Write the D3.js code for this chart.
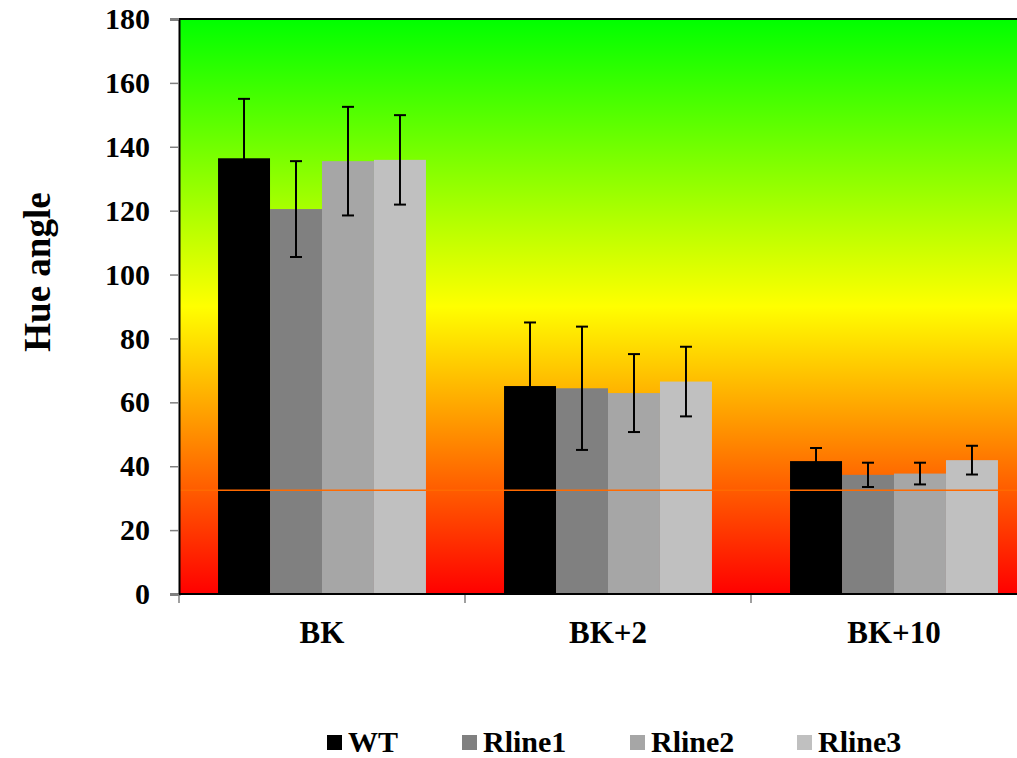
<!DOCTYPE html>
<html>
<head>
<meta charset="utf-8">
<script src="https://cdn.jsdelivr.net/npm/d3@7"></script>
<style>
  body { margin: 0; background: #fff; }
</style>
</head>
<body>
<div id="chart"></div>
<script>
const groups = ['BK', 'BK+2', 'BK+10']
const series = ['WT', 'Rline1', 'Rline2', 'Rline3']
const colors = ['#000000', '#808080', '#a6a6a6', '#c0c0c0']

// mean hue angle per group
const wt = [136.4, 65.1, 41.6]
const rline1 = [120.5, 64.4, 37.3]
const rline2 = [135.5, 62.9, 37.7]
const rline3 = [135.9, 66.5, 41.9]
// error bar half-lengths
const wtErr = [18.6, 19.9, 4.1]
const rline1Err = [15.0, 19.3, 3.8]
const rline2Err = [17.0, 12.2, 3.4]
const rline3Err = [14.0, 10.9, 4.5]

const yTicks = [0, 20, 40, 60, 80, 100, 120, 140, 160, 180]
const refLine = 32.5

const means = [wt, rline1, rline2, rline3]
const errs = [wtErr, rline1Err, rline2Err, rline3Err]

const W = 1017, H = 758
const mLeft = 179, mTop = 19, mBottom = 594
const mRight = mLeft + 3 * 286
const serif = "'Liberation Serif', 'Times New Roman', Times, serif"

const svg = d3.select('#chart')
  .append('svg')
  .attr('width', W)
  .attr('height', H)
  .style('font-family', serif)
  .style('font-weight', 'bold')

const y = d3.scaleLinear().domain([0, 180]).range([mBottom, mTop])
const x0 = d3.scaleBand().domain(groups).range([mLeft, mRight])
const x1 = d3.scaleBand().domain(series).range([0, x0.bandwidth() * 0.727])
const groupPad = (x0.bandwidth() - x1.range()[1]) / 2

// background gradient green -> yellow -> red
const grad = svg.append('defs').append('linearGradient')
  .attr('id', 'bg')
  .attr('gradientUnits', 'userSpaceOnUse')
  .attr('x1', 0).attr('x2', 0)
  .attr('y1', y(180)).attr('y2', y(0))
grad.append('stop').attr('offset', 0).attr('stop-color', '#00ff00')
grad.append('stop').attr('offset', 0.5).attr('stop-color', '#ffff00')
grad.append('stop').attr('offset', 1).attr('stop-color', '#ff0000')

svg.append('rect')
  .attr('x', mLeft).attr('y', y(180))
  .attr('width', mRight - mLeft).attr('height', y(0) - y(180))
  .attr('fill', 'url(#bg)')

// bars
const rows = []
groups.forEach(function(g, gi) {
  series.forEach(function(s, si) {
    rows.push({ g: g, s: s, si: si, v: means[si][gi], e: errs[si][gi] })
  })
})

const bx = function(d) { return x0(d.g) + groupPad + x1(d.s) }

svg.selectAll('rect.bar')
  .data(rows)
  .enter()
  .append('rect')
  .attr('class', 'bar')
  .attr('x', bx)
  .attr('y', function(d) { return y(d.v) })
  .attr('width', x1.bandwidth())
  .attr('height', function(d) { return y(0) - y(d.v) })
  .attr('fill', function(d) { return colors[d.si] })

// reference line
svg.append('line')
  .attr('x1', mLeft).attr('x2', mRight)
  .attr('y1', y(refLine)).attr('y2', y(refLine))
  .attr('stroke', '#ff6a00')
  .attr('stroke-width', 1.5)

// error bars
const eb = svg.selectAll('g.err')
  .data(rows)
  .enter()
  .append('g')
  .attr('class', 'err')
  .attr('transform', function(d) { return 'translate(' + (bx(d) + x1.bandwidth() / 2) + ',0)' })
  .attr('stroke', '#000')
  .attr('stroke-width', 2)

eb.append('line')
  .attr('x1', 0).attr('x2', 0)
  .attr('y1', function(d) { return y(d.v + d.e) })
  .attr('y2', function(d) { return y(d.v - d.e) })
eb.append('line')
  .attr('x1', -6).attr('x2', 6)
  .attr('y1', function(d) { return y(d.v + d.e) })
  .attr('y2', function(d) { return y(d.v + d.e) })
eb.append('line')
  .attr('x1', -6).attr('x2', 6)
  .attr('y1', function(d) { return y(d.v - d.e) })
  .attr('y2', function(d) { return y(d.v - d.e) })

// top frame line
svg.append('line')
  .attr('x1', mLeft).attr('x2', mRight)
  .attr('y1', mTop).attr('y2', mTop)
  .attr('stroke', '#000').attr('stroke-width', 2)

// y axis
const yAxis = svg.append('g')
  .attr('transform', 'translate(' + mLeft + ',0)')
  .call(d3.axisLeft(y).tickValues(yTicks).tickSize(9).tickPadding(20))
yAxis.attr('font-family', null).attr('font-size', null)
yAxis.select('.domain').attr('stroke', '#000').attr('stroke-width', 2)
yAxis.selectAll('.tick line').attr('stroke', '#808080').attr('stroke-width', 1.5)
yAxis.selectAll('.tick text')
  .style('font-size', '30px')
  .style('font-family', serif)
  .style('font-weight', 'bold')
  .attr('fill', '#000')

// x axis
const xAxis = svg.append('g')
  .attr('transform', 'translate(0,' + mBottom + ')')
xAxis.selectAll('line.xt')
  .data(groups.concat(['end']))
  .enter()
  .append('line')
  .attr('x1', function(d) { return d === 'end' ? mRight : x0(d) })
  .attr('x2', function(d) { return d === 'end' ? mRight : x0(d) })
  .attr('y1', 0).attr('y2', 9)
  .attr('stroke', '#808080').attr('stroke-width', 1.5)
xAxis.append('line')
  .attr('x1', mLeft).attr('x2', mRight)
  .attr('y1', 0).attr('y2', 0)
  .attr('stroke', '#000').attr('stroke-width', 2)
xAxis.selectAll('text')
  .data(groups)
  .enter()
  .append('text')
  .attr('x', function(d) { return x0(d) + x0.bandwidth() / 2 })
  .attr('y', 49)
  .attr('text-anchor', 'middle')
  .style('font-size', '31px')
  .style('font-family', serif)
  .text(function(d) { return d })

// y title
svg.append('text')
  .attr('transform', 'translate(50,272) rotate(-90)')
  .attr('text-anchor', 'middle')
  .style('font-size', '37px')
  .style('font-family', serif)
  .text('Hue angle')

// legend
const legX = [327, 462, 630, 797]
const leg = svg.selectAll('g.leg')
  .data(series)
  .enter()
  .append('g')
  .attr('class', 'leg')
  .attr('transform', function(d, i) { return 'translate(' + legX[i] + ',735)' })
leg.append('rect')
  .attr('width', 15).attr('height', 15)
  .attr('fill', function(d, i) { return colors[i] })
leg.append('text')
  .attr('x', 21).attr('y', 17)
  .style('font-size', '30px')
  .style('font-family', serif)
  .text(function(d) { return d })
</script>
</body>
</html>
